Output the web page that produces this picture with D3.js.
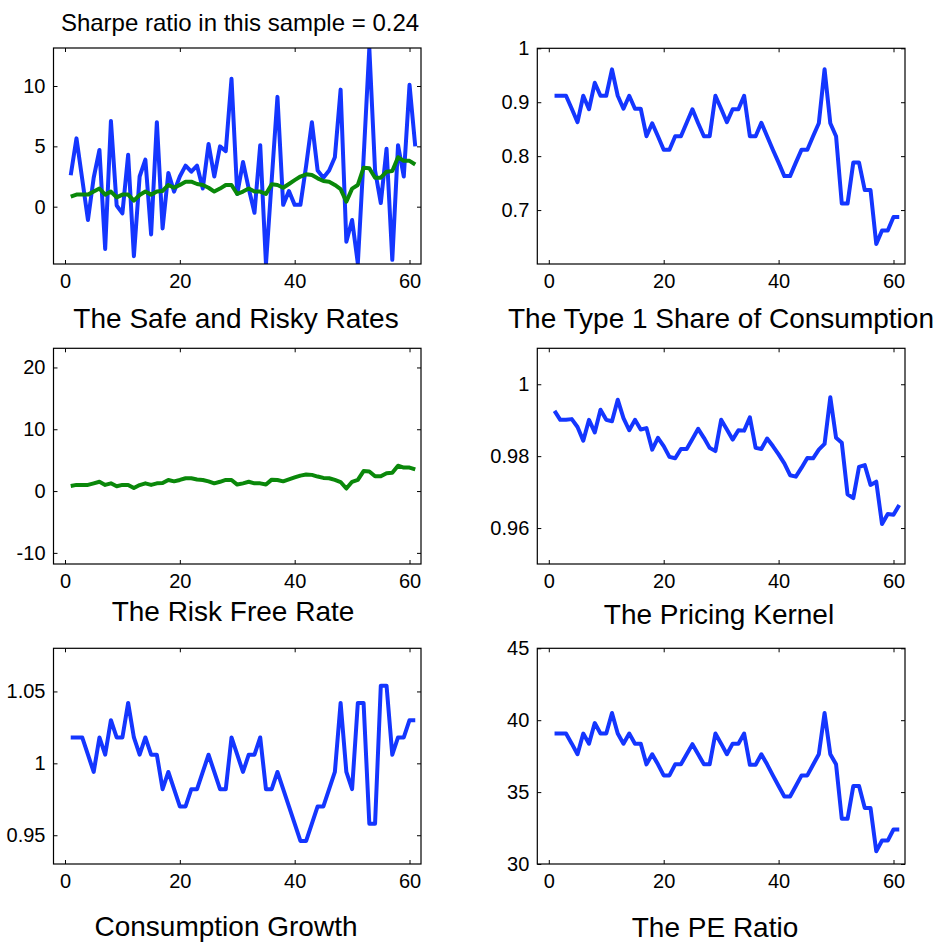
<!DOCTYPE html>
<html>
<head>
<meta charset="utf-8">
<script src="https://cdn.jsdelivr.net/npm/d3@7"></script>
<style>
body { margin: 0; background: #fff; }
svg { font-family: "Liberation Sans", Arial, Helvetica, sans-serif; }
.tick text { font-size: 20px; fill: #000; }
.tick line { stroke: #000; }
</style>
</head>
<body>
<script>
// time index of the sample
var periods = d3.range(1, 62);

var riskyRate = [2.6, 5.66, 2.3, -1.1, 2.4, 4.7, -3.5, 7.1, 0.1, -0.55,
  4.3, -4.1, 2.5, 3.9, -2.3, 7.0, -1.8, 2.8, 1.25, 2.5,
  3.4, 2.9, 3.4, 1.5, 5.2, 2.5, 5.0, 4.6, 10.6, 1.05,
  3.7, 1.5, -0.5, 5.1, -4.75, 2.2, 9.1, 0.15, 1.3, 0.15,
  0.15, 3.4, 7.0, 3.0, 2.4, 3.0, 4.1, 9.7, -2.9, -1.1,
  -4.7, 4.0, 13.15, 3.0, 0.3, 4.8, -4.4, 5.1, 2.5, 10.1,
  5.0];

var safeRate = [0.83, 1.0, 1.0, 1.0, 1.25, 1.5, 1.0, 1.25, 0.77, 1.0,
  1.0, 0.5, 0.97, 1.25, 1.0, 1.25, 1.3, 1.8, 1.57, 1.8,
  2.07, 2.07, 1.88, 1.8, 1.57, 1.25, 1.5, 1.8, 1.8, 1.05,
  1.25, 1.5, 1.25, 1.25, 1.05, 1.85, 1.8, 1.57, 1.88, 2.2,
  2.5, 2.68, 2.62, 2.35, 2.13, 2.07, 1.8, 1.46, 0.41, 1.5,
  1.8, 3.23, 3.18, 2.4, 2.4, 2.9, 2.95, 4.1, 3.8, 3.8,
  3.5];

var share = [0.912, 0.912, 0.912, 0.888, 0.863, 0.912, 0.887, 0.936, 0.912, 0.912,
  0.961, 0.912, 0.888, 0.912, 0.888, 0.888, 0.837, 0.861, 0.837, 0.812,
  0.812, 0.837, 0.837, 0.862, 0.887, 0.861, 0.837, 0.837, 0.912, 0.888,
  0.863, 0.887, 0.887, 0.912, 0.837, 0.837, 0.862, 0.837, 0.812, 0.788,
  0.763, 0.763, 0.788, 0.812, 0.812, 0.837, 0.861, 0.961, 0.861, 0.837,
  0.712, 0.712, 0.788, 0.788, 0.737, 0.737, 0.637, 0.662, 0.662, 0.687,
  0.687];

var kernel = [0.9926, 0.9901, 0.9901, 0.9903, 0.9881, 0.9843, 0.9901, 0.9866, 0.9929, 0.9901,
  0.9897, 0.9957, 0.9906, 0.9872, 0.9901, 0.9874, 0.9878, 0.9818, 0.9851, 0.9828,
  0.9798, 0.9794, 0.982, 0.982, 0.9848, 0.9876, 0.9851, 0.9823, 0.9814, 0.9901,
  0.9874, 0.9846, 0.9872, 0.9871, 0.9908, 0.9823, 0.982, 0.9849, 0.9828, 0.9805,
  0.978, 0.9747, 0.9743, 0.9768, 0.9795, 0.9794, 0.9818, 0.9834, 0.9964, 0.9851,
  0.9837, 0.9694, 0.9683, 0.977, 0.9775, 0.972, 0.9729, 0.9611, 0.9639, 0.9637,
  0.9664];

var consGrowth = [1.018, 1.018, 1.018, 1.006, 0.994, 1.018, 1.006, 1.030, 1.018, 1.018,
  1.042, 1.018, 1.006, 1.018, 1.006, 1.006, 0.982, 0.994, 0.982, 0.970,
  0.970, 0.982, 0.982, 0.994, 1.006, 0.994, 0.982, 0.982, 1.018, 1.006,
  0.994, 1.006, 1.006, 1.018, 0.982, 0.982, 0.994, 0.982, 0.970, 0.958,
  0.946, 0.946, 0.958, 0.970, 0.970, 0.982, 0.994, 1.042, 0.994, 0.982,
  1.042, 1.042, 0.958, 0.958, 1.054, 1.054, 1.006, 1.018, 1.018, 1.030,
  1.030];

var peRatio = [39.07, 39.07, 39.07, 38.37, 37.63, 39.07, 38.37, 39.8, 39.07, 39.07,
  40.5, 39.07, 38.37, 39.07, 38.37, 38.37, 36.93, 37.63, 36.93, 36.16,
  36.16, 36.93, 36.93, 37.63, 38.33, 37.63, 36.93, 36.93, 39.07, 38.37,
  37.63, 38.37, 38.37, 39.07, 36.9, 36.9, 37.63, 36.93, 36.16, 35.42,
  34.7, 34.7, 35.42, 36.16, 36.16, 36.9, 37.63, 40.5, 37.63, 36.93,
  33.14, 33.14, 35.42, 35.42, 33.9, 33.9, 30.88, 31.63, 31.63, 32.4,
  32.4];

var xTicks = [0, 20, 40, 60];
var riskyTicks = [0, 5, 10];
var shareTicks = [0.7, 0.8, 0.9, 1];
var safeTicks = [-10, 0, 10, 20];
var kernelTicks = [0.96, 0.98, 1];
var consTicks = [0.95, 1, 1.05];
var peTicks = [30, 35, 40, 45];

var supTitle = "Sharpe ratio in this sample = 0.24";

var blue = "#1436ff", green = "#0a880a";
var tickLen = 4;

var svg = d3.select("body").append("svg")
  .attr("width", 937)
  .attr("height", 945);

svg.append("text")
  .attr("x", 240)
  .attr("y", 31)
  .attr("text-anchor", "middle")
  .style("font-size", "24px")
  .text(supTitle);

//draw one matlab style box with inward ticks
function drawPanel(p, idx) {
  var width = p.right - p.left, height = p.bottom - p.top;
  var g = svg.append("g").attr("transform", "translate(" + p.left + "," + p.top + ")");

  var x = d3.scaleLinear().domain([-2, 62]).range([0, width]);
  var y = d3.scaleLinear().domain(p.yDomain).range([height, 0]);
  var fmt = function(d) { return String(d); };

  g.append("g")
    .attr("transform", "translate(0," + height + ")")
    .call(d3.axisBottom(x).tickValues(xTicks).tickFormat(fmt).tickSizeInner(-tickLen).tickSizeOuter(0).tickPadding(10));
  g.append("g")
    .call(d3.axisTop(x).tickValues(xTicks).tickFormat("").tickSizeInner(-tickLen).tickSizeOuter(0));
  g.append("g")
    .call(d3.axisLeft(y).tickValues(p.yTicks).tickFormat(fmt).tickSizeInner(-tickLen).tickSizeOuter(0).tickPadding(8));
  g.append("g")
    .attr("transform", "translate(" + width + ",0)")
    .call(d3.axisRight(y).tickValues(p.yTicks).tickFormat("").tickSizeInner(-tickLen).tickSizeOuter(0));
  g.selectAll(".domain").remove();

  g.append("clipPath").attr("id", "clip" + idx)
    .append("rect").attr("width", width).attr("height", height);

  var line = d3.line()
    .x(function(d, i) { return x(periods[i]); })
    .y(function(d) { return y(d); });

  p.series.forEach(function(s) {
    g.append("path")
      .datum(s.values)
      .attr("clip-path", "url(#clip" + idx + ")")
      .attr("fill", "none")
      .attr("stroke", s.color)
      .attr("stroke-width", 4)
      .attr("stroke-linejoin", "round")
      .attr("d", line);
  });

  g.append("rect")
    .attr("width", width)
    .attr("height", height)
    .attr("fill", "none")
    .attr("stroke", "#000")
    .attr("stroke-width", 1.2);

  svg.append("text")
    .attr("x", p.titleX)
    .attr("y", p.titleY)
    .attr("text-anchor", "middle")
    .style("font-size", "28px")
    .text(p.title);
}

var panels = [
  {left: 53.5, right: 421, top: 48, bottom: 264, yDomain: [-4.75, 13.15], yTicks: riskyTicks,
   series: [{values: riskyRate, color: blue}, {values: safeRate, color: green}],
   title: "The Safe and Risky Rates", titleX: 236, titleY: 328},
  {left: 537.3, right: 905, top: 48.3, bottom: 264, yDomain: [0.6, 1], yTicks: shareTicks,
   series: [{values: share, color: blue}],
   title: "The Type 1 Share of Consumption", titleX: 721, titleY: 328},
  {left: 53.5, right: 421, top: 348.3, bottom: 564, yDomain: [-11.8, 23.1], yTicks: safeTicks,
   series: [{values: safeRate, color: green}],
   title: "The Risk Free Rate", titleX: 233, titleY: 621},
  {left: 537.3, right: 905, top: 348.3, bottom: 564, yDomain: [0.95, 1.01], yTicks: kernelTicks,
   series: [{values: kernel, color: blue}],
   title: "The Pricing Kernel", titleX: 719, titleY: 624},
  {left: 53.5, right: 421, top: 648.3, bottom: 864, yDomain: [0.93, 1.08], yTicks: consTicks,
   series: [{values: consGrowth, color: blue}],
   title: "Consumption Growth", titleX: 226, titleY: 936},
  {left: 537.3, right: 905, top: 648.3, bottom: 864, yDomain: [30, 45], yTicks: peTicks,
   series: [{values: peRatio, color: blue}],
   title: "The PE Ratio", titleX: 715, titleY: 937}
];

panels.forEach(drawPanel);
</script>
</body>
</html>
